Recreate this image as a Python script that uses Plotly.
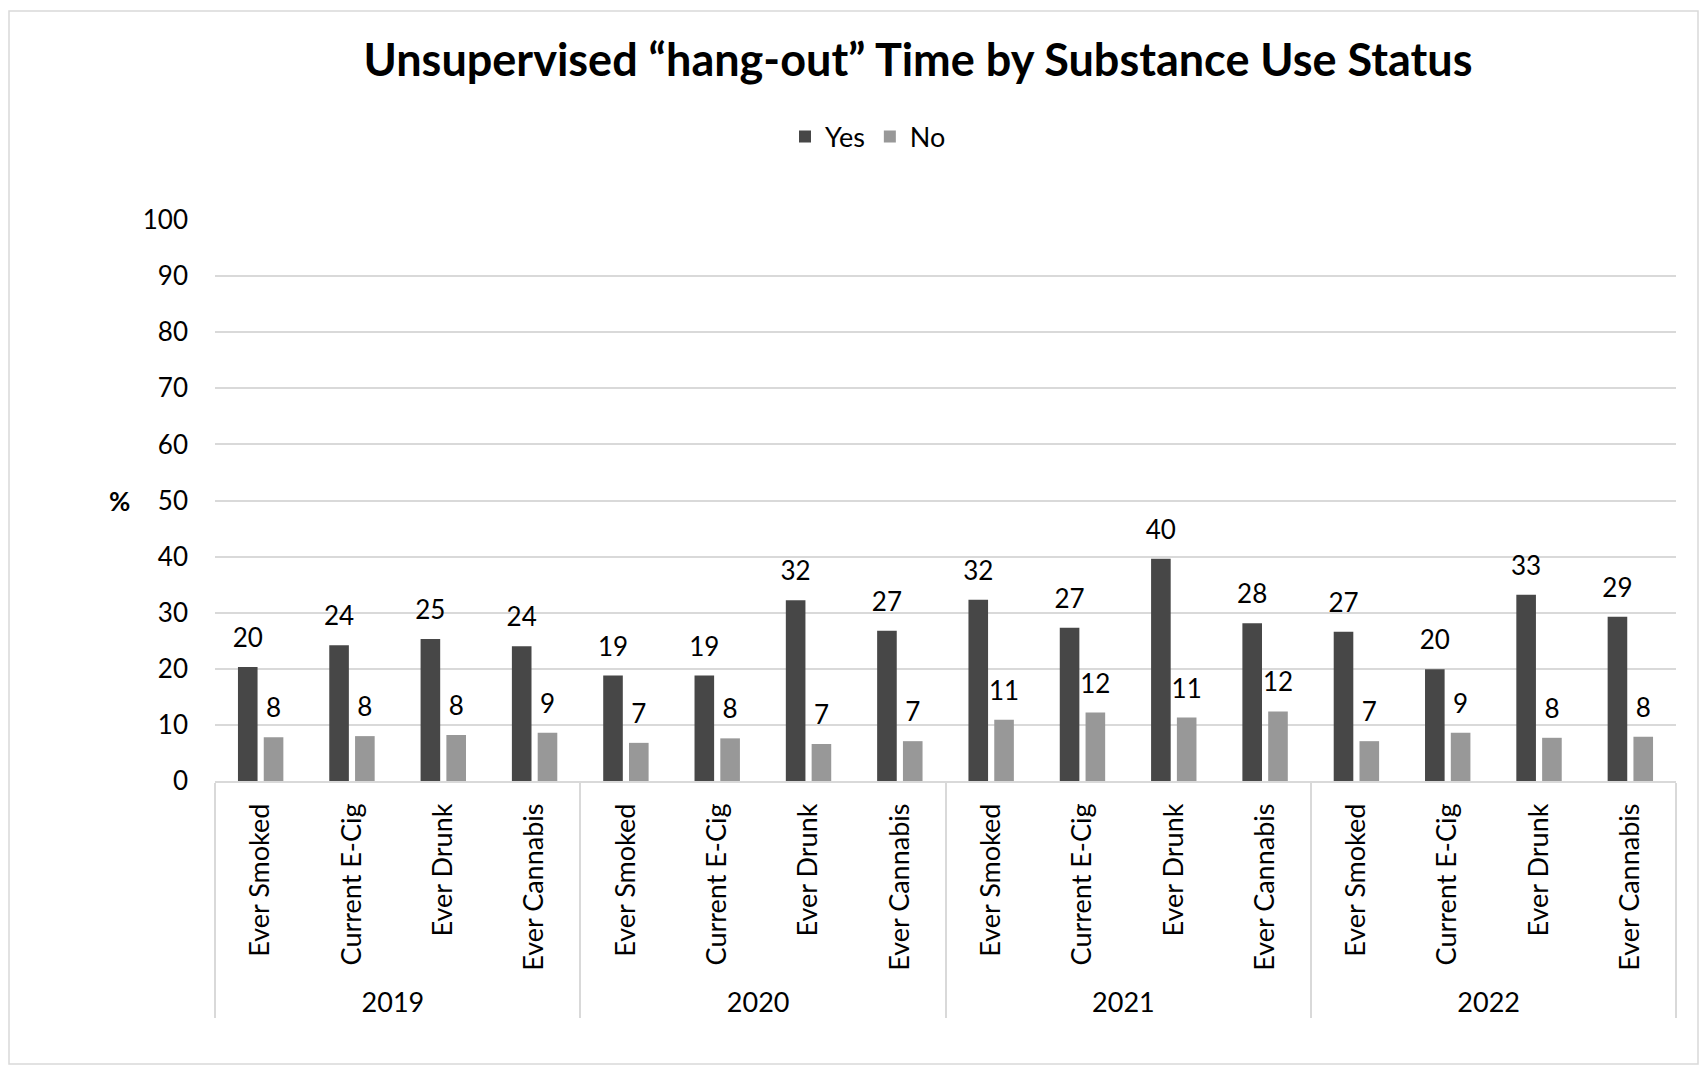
import plotly.graph_objects as go

years = ["2019", "2020", "2021", "2022"]
substances = ["Ever Smoked", "Current E-Cig", "Ever Drunk", "Ever Cannabis"]
yes_values = [20.3, 24.2, 25.3, 24.0,
              18.8, 18.8, 32.2, 26.8,
              32.3, 27.3, 39.6, 28.1,
              26.6, 19.9, 33.2, 29.3]
no_values = [7.8, 8.0, 8.2, 8.6,
             6.8, 7.6, 6.6, 7.1,
             10.9, 12.2, 11.3, 12.4,
             7.1, 8.6, 7.7, 7.9]
y_ticks = [0, 10, 20, 30, 40, 50, 60, 70, 80, 90, 100]

x_outer = [y for y in years for _ in substances]
x_inner = [s for _ in years for s in substances]

FONT = "Lato"
W, H = 1701, 1066
L, R, T, B = 215, 25, 220, 285
BARGAP = 0.435

fig = go.Figure()
for name, vals, col in [("Yes", yes_values, "#474747"), ("No", no_values, "#989898")]:
    fig.add_trace(go.Bar(
        name=name, x=[x_outer, x_inner], y=vals,
        marker_color=col, marker_line_width=0,
        offsetgroup=name, alignmentgroup="g",
    ))
for name, vals in [("Yes", yes_values), ("No", no_values)]:
    fig.add_trace(go.Scatter(
        x=[x_outer, x_inner], y=vals, mode="markers+text", showlegend=False,
        offsetgroup=name, alignmentgroup="g",
        marker=dict(size=20, color="rgba(0,0,0,0)"),
        texttemplate="%{y:.0f}", textposition="top center",
        textfont=dict(size=26, color="black", family=FONT), cliponaxis=False,
        hoverinfo="skip",
    ))

fig.update_layout(
    width=W, height=H,
    margin=dict(l=L, r=R, t=T, b=B, autoexpand=False),
    paper_bgcolor="white", plot_bgcolor="white",
    font=dict(family=FONT, color="black", size=26),
    barmode="group", bargap=BARGAP, bargroupgap=0.24,
    scattermode="group", scattergap=BARGAP,
    title=dict(text="<b>Unsupervised “hang-out” Time by Substance Use Status</b>",
               font=dict(size=45, family=FONT, color="black"),
               x=918 / W, xref="container", xanchor="center",
               y=1 - 60 / H, yref="container", yanchor="middle"),
    legend=dict(orientation="h", xref="container", x=868 / W, xanchor="center",
                yref="container", y=1 - 137 / H, yanchor="middle",
                font=dict(size=27, family=FONT), itemwidth=30, traceorder="normal"),
    xaxis=dict(type="multicategory", tickangle=-90, showline=True,
               linecolor="#d9d9d9", linewidth=1.5, showgrid=False,
               showdividers=True, dividercolor="#d9d9d9", dividerwidth=1.5,
               tickfont=dict(size=27, family=FONT), ticks="", ticklabelstandoff=10),
    yaxis=dict(range=[0, 100], tickvals=y_ticks, showgrid=True,
               gridcolor="#d9d9d9", gridwidth=1.5, zeroline=False,
               showline=False, ticks="", tickfont=dict(size=26, family=FONT),
               ticklabelstandoff=26),
    annotations=[dict(text="<b>%</b>", xref="paper", yref="paper",
                      x=(119 - L) / (W - L - R), y=(781 - 501) / (781 - 220),
                      xanchor="center", yanchor="middle", showarrow=False,
                      font=dict(size=26, family=FONT, color="black"))],
    shapes=[dict(type="rect", xref="paper", yref="paper",
                 x0=(9 - L) / (W - L - R), x1=(1698 - L) / (W - L - R),
                 y0=(781 - 1064) / (781 - 220), y1=(781 - 11) / (781 - 220),
                 line=dict(color="#d9d9d9", width=1.5), layer="below")],
)

fig.write_html("out.html", config={"displayModeBar": False},
               post_script="document.body.style.margin='0px';")
